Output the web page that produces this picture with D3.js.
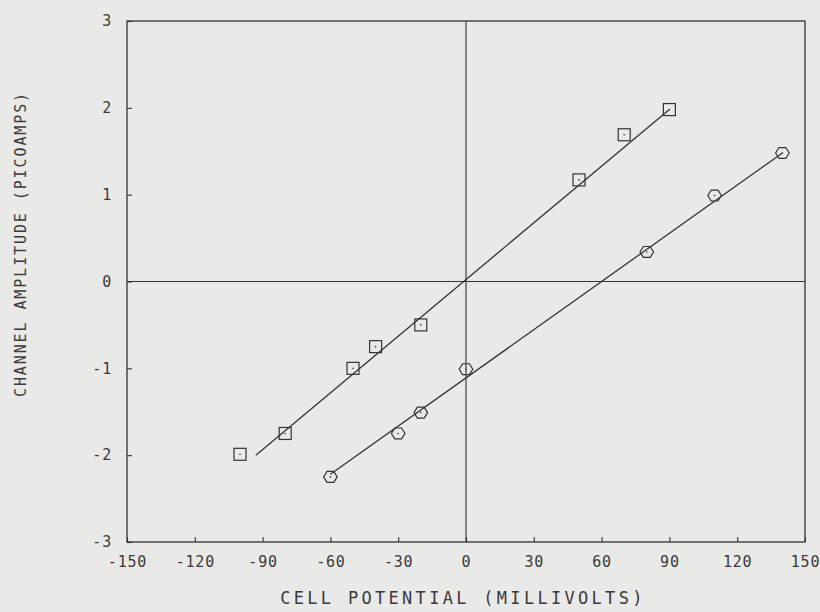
<!DOCTYPE html>
<html>
<head>
<meta charset="utf-8">
<script src="https://cdn.jsdelivr.net/npm/d3@7"></script>
<style>
  body { margin: 0; background: #e9e9e8; }
  svg { display: block; }
  .tick text, .title { font-family: "DejaVu Sans Mono", monospace; fill: #3a3a3a; font-feature-settings: "zero"; }
  .tick text { font-size: 15px; letter-spacing: 0.8px; }
  .domain { display: none; }
  .tick line { stroke: #333; stroke-width: 1.1px; }
</style>
</head>
<body>
<svg></svg>
<script>
// tick values
var xTicks = [-150, -120, -90, -60, -30, 0, 30, 60, 90, 120, 150];
var yTicks = [-3, -2, -1, 0, 1, 2, 3];

// squares
var sqV = [-100, -80, -50, -40, -20, 50, 70, 90];
var sqI = [-1.99, -1.75, -1.0, -0.75, -0.5, 1.17, 1.69, 1.98];
var sqFitV = [-93, 90];
var sqFitI = [-2.0, 1.98];

// hexagons
var hexV = [-60, -30, -20, 0, 80, 110, 140];
var hexI = [-2.25, -1.75, -1.51, -1.01, 0.34, 0.99, 1.48];
var hexFitV = [-60, 140];
var hexFitI = [-2.22, 1.48];

var width = 820, height = 612;
var margin = { top: 21, right: 15, bottom: 70, left: 127 };
var chartWidth = width - margin.left - margin.right;
var chartHeight = height - margin.top - margin.bottom;
var ink = '#333';

var svg = d3.select('svg').attr('width', width).attr('height', height);
var g = svg.append('g').attr('transform', 'translate(' + margin.left + ',' + margin.top + ')');

var x = d3.scaleLinear().domain([-150, 150]).range([0, chartWidth]);
var y = d3.scaleLinear().domain([-3, 3]).range([chartHeight, 0]);

// frame and zero lines
g.append('rect').attr('width', chartWidth).attr('height', chartHeight)
    .attr('fill', 'none').attr('stroke', ink).attr('stroke-width', 1.3);
g.append('line').attr('x1', x(0)).attr('x2', x(0)).attr('y1', 0).attr('y2', chartHeight)
    .attr('stroke', ink).attr('stroke-width', 1.1);
g.append('line').attr('x1', 0).attr('x2', chartWidth).attr('y1', y(0)).attr('y2', y(0))
    .attr('stroke', ink).attr('stroke-width', 1.1);

// axes, ticks pointing inward
g.append('g').attr('transform', 'translate(0,' + chartHeight + ')')
    .call(d3.axisBottom(x).tickValues(xTicks).tickSize(-5).tickSizeOuter(0).tickPadding(14).tickFormat(function(d) { return d; }));
g.append('g')
    .call(d3.axisLeft(y).tickValues(yTicks).tickSize(-5).tickSizeOuter(0).tickPadding(15).tickFormat(function(d) { return d; }));

// titles
svg.append('text').attr('class', 'title')
    .attr('x', 463).attr('y', 604)
    .style('text-anchor', 'middle').style('font-size', '17px').style('letter-spacing', '3.3px')
    .text('CELL POTENTIAL (MILLIVOLTS)');
svg.append('text').attr('class', 'title')
    .attr('transform', 'translate(26,244) rotate(-90)')
    .style('text-anchor', 'middle').style('font-size', '15px').style('letter-spacing', '1.9px')
    .text('CHANNEL AMPLITUDE (PICOAMPS)');

// fit lines
var line = d3.line().x(function(d) { return x(d[0]); }).y(function(d) { return y(d[1]); });
g.append('path').datum(d3.zip(sqFitV, sqFitI)).attr('d', line)
    .attr('fill', 'none').attr('stroke', ink).attr('stroke-width', 1.3);
g.append('path').datum(d3.zip(hexFitV, hexFitI)).attr('d', line)
    .attr('fill', 'none').attr('stroke', ink).attr('stroke-width', 1.3);

// square markers
var sq = g.selectAll('.sq').data(d3.zip(sqV, sqI)).enter().append('g')
    .attr('class', 'sq')
    .attr('transform', function(d) { return 'translate(' + x(d[0]) + ',' + y(d[1]) + ')'; });
sq.append('rect').attr('x', -6).attr('y', -6).attr('width', 12).attr('height', 12)
    .attr('fill', 'none').attr('stroke', ink).attr('stroke-width', 1.2);
sq.append('circle').attr('r', 0.8).attr('fill', ink);

// hexagon markers
var hexPath = d3.range(6).map(function(i) {
    var a = i * Math.PI / 3;
    return [6.8 * Math.cos(a), 6.3 * Math.sin(a)];
});
var hx = g.selectAll('.hx').data(d3.zip(hexV, hexI)).enter().append('g')
    .attr('class', 'hx')
    .attr('transform', function(d) { return 'translate(' + x(d[0]) + ',' + y(d[1]) + ')'; });
hx.append('path').attr('d', 'M' + hexPath.join('L') + 'Z')
    .attr('fill', 'none').attr('stroke', ink).attr('stroke-width', 1.2);
hx.append('circle').attr('r', 0.8).attr('fill', ink);
</script>
</body>
</html>
